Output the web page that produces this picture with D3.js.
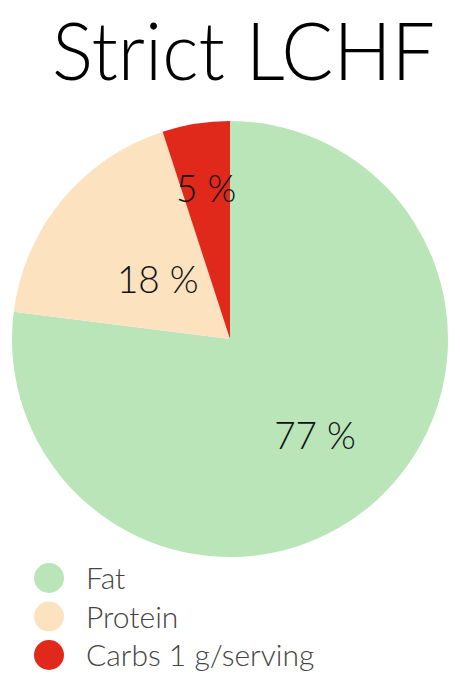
<!DOCTYPE html>
<html lang="en">
<head>
    <meta charset="UTF-8">
    <title>Strict LCHF</title>
    <style>
        body { margin: 0; background: #fff; }
        text { font-family: Lato, "DejaVu Sans", sans-serif; font-weight: 300; }
        .title { font-size: 80px; fill: #000; }
        .pct { font-size: 37px; fill: #111; }
        .legend-label { font-size: 30px; fill: #444; }
    </style>
    <script src="https://d3js.org/d3.v7.min.js"></script>
</head>
<body>
    <div id="chart"></div>
    <script>
        const categories = ["Fat", "Protein", "Carbs"];
        const values = [77, 18, 5];
        const legendLabels = ["Fat", "Protein", "Carbs 1 g/serving"];
        const colors = ["#bae5b9", "#fde2bf", "#e0291b"];

        const width = 460;
        const height = 683;
        const cx = 230, cy = 339, radius = 218;

        const svg = d3.select("#chart").append("svg")
            .attr("width", width)
            .attr("height", height);

        // title
        svg.append("text")
            .attr("class", "title")
            .attr("x", 52)
            .attr("y", 80)
            .attr("textLength", 383)
            .attr("lengthAdjust", "spacingAndGlyphs")
            .text("Strict LCHF");

        const color = d3.scaleOrdinal().domain(categories).range(colors);

        const pie = d3.pie().sort(null).value(d => d.value);
        const data = categories.map((c, i) => ({ name: c, value: values[i] }));
        const arcs = pie(data);

        const arc = d3.arc().innerRadius(0).outerRadius(radius);

        const g = svg.append("g").attr("transform", `translate(${cx},${cy})`);

        g.selectAll("path")
            .data(arcs)
            .enter().append("path")
            .attr("d", arc)
            .attr("fill", d => color(d.data.name));

        // label positions as fraction of radius along each slice's mid angle
        const labelRadius = [0.59, 0.43, 0.70];
        g.selectAll("text.pct")
            .data(arcs)
            .enter().append("text")
            .attr("class", "pct")
            .attr("text-anchor", "middle")
            .attr("x", (d, i) => Math.sin((d.startAngle + d.endAngle) / 2) * radius * labelRadius[i])
            .attr("y", (d, i) => -Math.cos((d.startAngle + d.endAngle) / 2) * radius * labelRadius[i])
            .attr("dy", "0.36em")
            .text(d => d.data.value + " %");

        // legend
        const legendY = d3.scalePoint().domain(categories).range([578, 655]);

        const legend = svg.append("g")
            .selectAll("g")
            .data(categories)
            .enter().append("g")
            .attr("transform", d => `translate(0,${legendY(d)})`);

        legend.append("circle")
            .attr("cx", 49)
            .attr("r", 15)
            .attr("fill", d => color(d));

        legend.append("text")
            .attr("class", "legend-label")
            .attr("x", 86)
            .attr("y", 11)
            .text((d, i) => legendLabels[i]);
    </script>
</body>
</html>
